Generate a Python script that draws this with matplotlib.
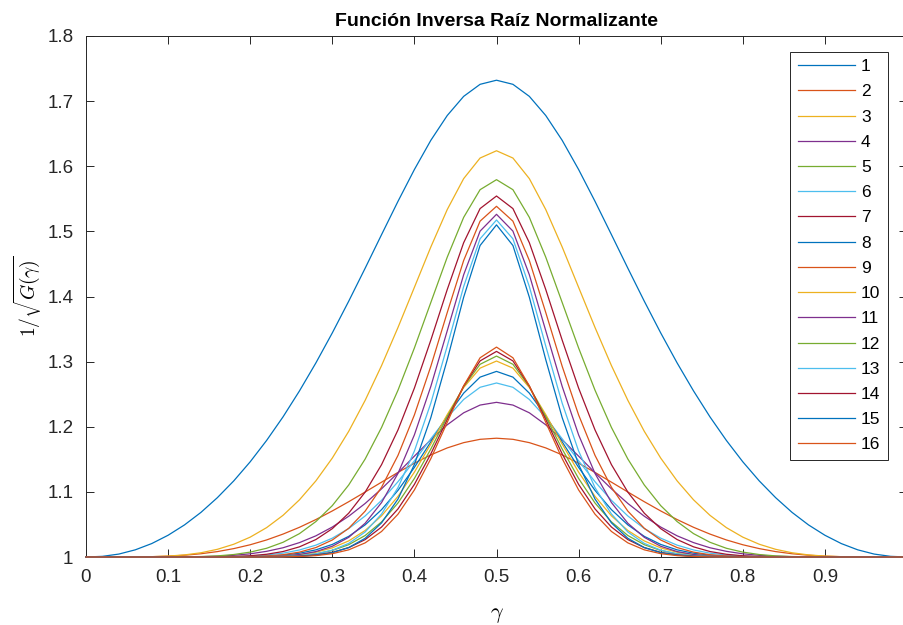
import numpy as np
import matplotlib
matplotlib.use('Agg')
import matplotlib.pyplot as plt

# gamma grid (step 0.02)
gamma = np.linspace(0, 1, 51)

g1 = [1.0, 1.0010, 1.0045, 1.0110, 1.0206, 1.0334, 1.0493, 1.0685, 1.0911, 1.1169, 1.1462, 1.1790, 1.2152,
      1.2550, 1.2980, 1.3441, 1.3928, 1.4434, 1.4950, 1.5461, 1.5950, 1.6398, 1.6779, 1.7073, 1.7258,
      1.7321,
      1.7258, 1.7073, 1.6779, 1.6398, 1.5950, 1.5461, 1.4950, 1.4434, 1.3928, 1.3441, 1.2980, 1.2550,
      1.2152, 1.1790, 1.1462, 1.1169, 1.0911, 1.0685, 1.0493, 1.0334, 1.0206, 1.0110, 1.0045, 1.0010, 1.0]
g2 = [1.0, 1.0, 1.0, 1.0002, 1.0005, 1.0013, 1.0027, 1.0050, 1.0083, 1.0129, 1.0188, 1.0262, 1.0352,
      1.0456, 1.0575, 1.0707, 1.0849, 1.0998, 1.1149, 1.1299, 1.1440, 1.1568, 1.1675, 1.1756, 1.1807,
      1.1824,
      1.1807, 1.1756, 1.1675, 1.1568, 1.1440, 1.1299, 1.1149, 1.0998, 1.0849, 1.0707, 1.0575, 1.0456,
      1.0352, 1.0262, 1.0188, 1.0129, 1.0083, 1.0050, 1.0027, 1.0013, 1.0005, 1.0002, 1.0, 1.0, 1.0]
g3 = [1.0, 1.0, 1.0, 1.0001, 1.0005, 1.0014, 1.0032, 1.0065, 1.0118, 1.0196, 1.0305, 1.0451, 1.0640,
      1.0878, 1.1169, 1.1519, 1.1930, 1.2405, 1.2939, 1.3524, 1.4141, 1.4760, 1.5335, 1.5810, 1.6126,
      1.6238,
      1.6126, 1.5810, 1.5335, 1.4760, 1.4141, 1.3524, 1.2939, 1.2405, 1.1930, 1.1519, 1.1169, 1.0878,
      1.0640, 1.0451, 1.0305, 1.0196, 1.0118, 1.0065, 1.0032, 1.0014, 1.0005, 1.0001, 1.0, 1.0, 1.0]
g4 = [1.0, 1.0, 1.0, 1.0, 1.0, 1.0, 1.0002, 1.0005, 1.0012, 1.0026, 1.0049, 1.0087, 1.0142,
      1.0221, 1.0325, 1.0460, 1.0626, 1.0822, 1.1047, 1.1293, 1.1549, 1.1801, 1.2030, 1.2214, 1.2333,
      1.2375,
      1.2333, 1.2214, 1.2030, 1.1801, 1.1549, 1.1293, 1.1047, 1.0822, 1.0626, 1.0460, 1.0325, 1.0221,
      1.0142, 1.0087, 1.0049, 1.0026, 1.0012, 1.0005, 1.0002, 1.0, 1.0, 1.0, 1.0, 1.0, 1.0]
g5 = [1.0, 1.0, 1.0, 1.0, 1.0, 1.0, 1.0002, 1.0007, 1.0017, 1.0038, 1.0075, 1.0134, 1.0226,
      1.0359, 1.0544, 1.0789, 1.1106, 1.1504, 1.1989, 1.2561, 1.3210, 1.3908, 1.4604, 1.5215, 1.5640,
      1.5794,
      1.5640, 1.5215, 1.4604, 1.3908, 1.3210, 1.2561, 1.1989, 1.1504, 1.1106, 1.0789, 1.0544, 1.0359,
      1.0226, 1.0134, 1.0075, 1.0038, 1.0017, 1.0007, 1.0002, 1.0, 1.0, 1.0, 1.0, 1.0, 1.0]
g6 = [1.0, 1.0, 1.0, 1.0, 1.0, 1.0, 1.0, 1.0, 1.0002, 1.0006, 1.0014, 1.0030, 1.0059,
      1.0108, 1.0182, 1.0289, 1.0437, 1.0630, 1.0870, 1.1156, 1.1477, 1.1815, 1.2142, 1.2419, 1.2606,
      1.2672,
      1.2606, 1.2419, 1.2142, 1.1815, 1.1477, 1.1156, 1.0870, 1.0630, 1.0437, 1.0289, 1.0182, 1.0108,
      1.0059, 1.0030, 1.0014, 1.0006, 1.0002, 1.0, 1.0, 1.0, 1.0, 1.0, 1.0, 1.0, 1.0]
g7 = [1.0, 1.0, 1.0, 1.0, 1.0, 1.0, 1.0, 1.0, 1.0003, 1.0008, 1.0019, 1.0042, 1.0084,
      1.0156, 1.0268, 1.0435, 1.0673, 1.0996, 1.1418, 1.1951, 1.2594, 1.3330, 1.4107, 1.4826, 1.5350,
      1.5543,
      1.5350, 1.4826, 1.4107, 1.3330, 1.2594, 1.1951, 1.1418, 1.0996, 1.0673, 1.0435, 1.0268, 1.0156,
      1.0084, 1.0042, 1.0019, 1.0008, 1.0003, 1.0, 1.0, 1.0, 1.0, 1.0, 1.0, 1.0, 1.0]
g8 = [1.0, 1.0, 1.0, 1.0, 1.0, 1.0, 1.0, 1.0, 1.0, 1.0002, 1.0005, 1.0012, 1.0028,
      1.0058, 1.0110, 1.0193, 1.0317, 1.0493, 1.0727, 1.1023, 1.1376, 1.1768, 1.2165, 1.2516, 1.2762,
      1.2850,
      1.2762, 1.2516, 1.2165, 1.1768, 1.1376, 1.1023, 1.0727, 1.0493, 1.0317, 1.0193, 1.0110, 1.0058,
      1.0028, 1.0012, 1.0005, 1.0002, 1.0, 1.0, 1.0, 1.0, 1.0, 1.0, 1.0, 1.0, 1.0]
g9 = [1.0, 1.0, 1.0, 1.0, 1.0, 1.0, 1.0, 1.0, 1.0, 1.0002, 1.0006, 1.0015, 1.0035,
      1.0075, 1.0145, 1.0261, 1.0441, 1.0704, 1.1071, 1.1560, 1.2182, 1.2928, 1.3754, 1.4553, 1.5157,
      1.5385,
      1.5157, 1.4553, 1.3754, 1.2928, 1.2182, 1.1560, 1.1071, 1.0704, 1.0441, 1.0261, 1.0145, 1.0075,
      1.0035, 1.0015, 1.0006, 1.0002, 1.0, 1.0, 1.0, 1.0, 1.0, 1.0, 1.0, 1.0, 1.0]
g10 = [1.0, 1.0, 1.0, 1.0, 1.0, 1.0, 1.0, 1.0, 1.0, 1.0, 1.0002, 1.0006, 1.0016,
       1.0036, 1.0074, 1.0140, 1.0247, 1.0407, 1.0632, 1.0931, 1.1303, 1.1734, 1.2187, 1.2602, 1.2900,
       1.3009,
       1.2900, 1.2602, 1.2187, 1.1734, 1.1303, 1.0931, 1.0632, 1.0407, 1.0247, 1.0140, 1.0074, 1.0036,
       1.0016, 1.0006, 1.0002, 1.0, 1.0, 1.0, 1.0, 1.0, 1.0, 1.0, 1.0, 1.0, 1.0]
g11 = [1.0, 1.0, 1.0, 1.0, 1.0, 1.0, 1.0, 1.0, 1.0, 1.0, 1.0002, 1.0006, 1.0016,
       1.0038, 1.0083, 1.0165, 1.0302, 1.0518, 1.0836, 1.1283, 1.1876, 1.2619, 1.3474, 1.4334, 1.5004,
       1.5262,
       1.5004, 1.4334, 1.3474, 1.2619, 1.1876, 1.1283, 1.0836, 1.0518, 1.0302, 1.0165, 1.0083, 1.0038,
       1.0016, 1.0006, 1.0002, 1.0, 1.0, 1.0, 1.0, 1.0, 1.0, 1.0, 1.0, 1.0, 1.0]
g12 = [1.0, 1.0, 1.0, 1.0, 1.0, 1.0, 1.0, 1.0, 1.0, 1.0, 1.0, 1.0003, 1.0008,
       1.0021, 1.0049, 1.0100, 1.0189, 1.0330, 1.0539, 1.0829, 1.1206, 1.1658, 1.2151, 1.2617, 1.2959,
       1.3085,
       1.2959, 1.2617, 1.2151, 1.1658, 1.1206, 1.0829, 1.0539, 1.0330, 1.0189, 1.0100, 1.0049, 1.0021,
       1.0008, 1.0003, 1.0, 1.0, 1.0, 1.0, 1.0, 1.0, 1.0, 1.0, 1.0, 1.0, 1.0]
g13 = [1.0, 1.0, 1.0, 1.0, 1.0, 1.0, 1.0, 1.0, 1.0, 1.0, 1.0, 1.0002, 1.0007,
       1.0020, 1.0048, 1.0105, 1.0209, 1.0384, 1.0660, 1.1065, 1.1628, 1.2362, 1.3239, 1.4153, 1.4886,
       1.5175,
       1.4886, 1.4153, 1.3239, 1.2362, 1.1628, 1.1065, 1.0660, 1.0384, 1.0209, 1.0105, 1.0048, 1.0020,
       1.0007, 1.0002, 1.0, 1.0, 1.0, 1.0, 1.0, 1.0, 1.0, 1.0, 1.0, 1.0, 1.0]
g14 = [1.0, 1.0, 1.0, 1.0, 1.0, 1.0, 1.0, 1.0, 1.0, 1.0, 1.0, 1.0001, 1.0005,
       1.0013, 1.0032, 1.0071, 1.0144, 1.0267, 1.0460, 1.0738, 1.1115, 1.1583, 1.2111, 1.2625, 1.3011,
       1.3157,
       1.3011, 1.2625, 1.2111, 1.1583, 1.1115, 1.0738, 1.0460, 1.0267, 1.0144, 1.0071, 1.0032, 1.0013,
       1.0005, 1.0001, 1.0, 1.0, 1.0, 1.0, 1.0, 1.0, 1.0, 1.0, 1.0, 1.0, 1.0]
g15 = [1.0, 1.0, 1.0, 1.0, 1.0, 1.0, 1.0, 1.0, 1.0, 1.0, 1.0, 1.0, 1.0003,
       1.0010, 1.0028, 1.0067, 1.0145, 1.0287, 1.0524, 1.0890, 1.1421, 1.2140, 1.3030, 1.3989, 1.4783,
       1.5100,
       1.4783, 1.3989, 1.3030, 1.2140, 1.1421, 1.0890, 1.0524, 1.0287, 1.0145, 1.0067, 1.0028, 1.0010,
       1.0003, 1.0, 1.0, 1.0, 1.0, 1.0, 1.0, 1.0, 1.0, 1.0, 1.0, 1.0, 1.0]
g16 = [1.0, 1.0, 1.0, 1.0, 1.0, 1.0, 1.0, 1.0, 1.0, 1.0, 1.0, 1.0, 1.0002,
       1.0008, 1.0021, 1.0051, 1.0110, 1.0217, 1.0392, 1.0657, 1.1030, 1.1510, 1.2068, 1.2628, 1.3059,
       1.3223,
       1.3059, 1.2628, 1.2068, 1.1510, 1.1030, 1.0657, 1.0392, 1.0217, 1.0110, 1.0051, 1.0021, 1.0008,
       1.0002, 1.0, 1.0, 1.0, 1.0, 1.0, 1.0, 1.0, 1.0, 1.0, 1.0, 1.0, 1.0]

curves = [g1, g2, g3, g4, g5, g6, g7, g8, g9, g10, g11, g12, g13, g14, g15, g16]
labels = [str(i) for i in range(1, 17)]
colors = ['#0072BD', '#D95319', '#EDB120', '#7E2F8E', '#77AC30', '#4DBEEE', '#A2142F']

plt.rcParams['font.family'] = ['Liberation Sans', 'DejaVu Sans']
plt.rcParams['mathtext.fontset'] = 'cm'

fig = plt.figure(figsize=(9.04, 6.25), dpi=100)
ax = fig.add_axes([86/904, 68/625, 821/904, 521/625])

for i, y in enumerate(curves):
    ax.plot(gamma, y, color=colors[i % 7], lw=0.9, label=labels[i], zorder=3, clip_on=False)

ax.set_xlim(0, 1)
ax.set_ylim(1, 1.8)
ax.set_xticks(np.arange(0, 1.01, 0.1))
ax.set_xticklabels(['0', '0.1', '0.2', '0.3', '0.4', '0.5', '0.6', '0.7', '0.8', '0.9', '1'])
ax.set_yticks(np.arange(1, 1.81, 0.1))
ax.set_yticklabels(['1', '1.1', '1.2', '1.3', '1.4', '1.5', '1.6', '1.7', '1.8'])
ax.tick_params(direction='in', length=6, width=0.7, top=True, right=True,
               labelsize=13.5, colors='#262626', pad=9)
for s in ax.spines.values():
    s.set_color('#262626')
    s.set_linewidth(0.7)

ax.set_title('Función Inversa Raíz Normalizante', fontsize=14, fontweight='bold', pad=7)
ax.set_xlabel(r'$\gamma$', fontsize=16)
ax.xaxis.set_label_coords(0.5, -0.09)
ax.set_ylabel(r'$1/\sqrt{G(\gamma)}$', fontsize=14)
ax.yaxis.set_label_coords(-0.051, 0.5)

leg = ax.legend(loc='upper right', bbox_to_anchor=(887.7/904, 1 - 51.7/625),
                bbox_transform=fig.transFigure, borderaxespad=0, fontsize=12.5,
                handlelength=3.3, handletextpad=0.35, labelspacing=0.58,
                borderpad=0.42, fancybox=False, framealpha=1)
leg.get_frame().set_edgecolor('#262626')
leg.get_frame().set_linewidth(0.7)

fig.savefig('out.png', dpi=100)
